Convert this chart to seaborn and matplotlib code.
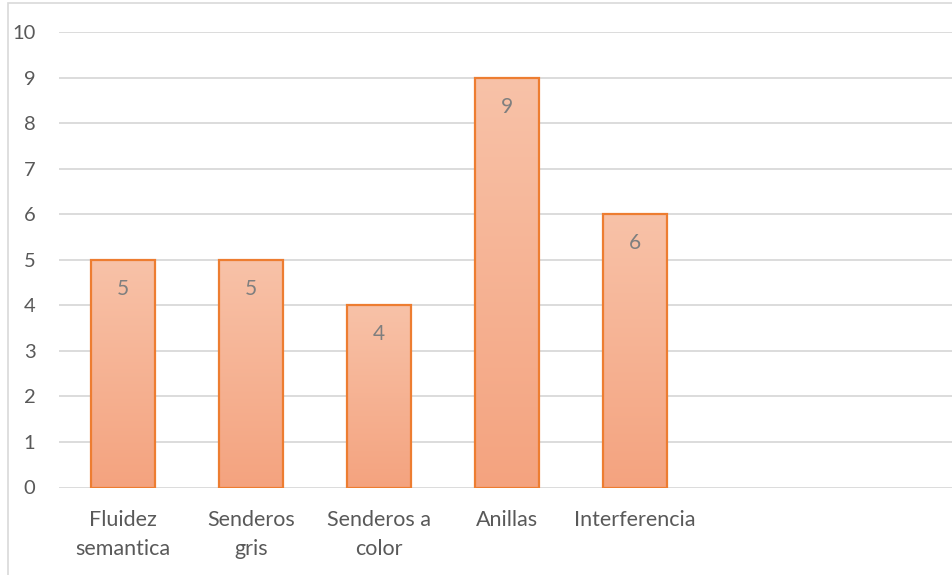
import numpy as np
import pandas as pd
import matplotlib.pyplot as plt
import matplotlib.colors as mcolors
from matplotlib.patches import Rectangle
import seaborn as sns

# data
categories = ["Fluidez\nsemantica", "Senderos\ngris", "Senderos a\ncolor", "Anillas", "Interferencia"]
values = [5, 5, 4, 9, 6]
n_slots = 7  # the category axis has two empty slots on the right
y_ticks = list(range(0, 11))

df = pd.DataFrame({"prueba": categories, "valor": values})

sns.set_theme(style="white")
plt.rcParams["font.family"] = ["Lato", "DejaVu Sans"]

fig = plt.figure(figsize=(9.53, 5.75), dpi=100)
ax = fig.add_axes([59 / 953, 1 - 487.5 / 575, 896 / 953, (487.5 - 32) / 575])

sns.barplot(data=df, x="prueba", y="valor", order=categories, width=0.5,
            color="#F5AE8D", edgecolor="#ED7D31", linewidth=1.6, saturation=1, ax=ax)

ax.set_xlim(-0.5, n_slots - 0.5)
ax.set_ylim(0, 10)
ax.set_yticks(y_ticks)
ax.set_xlabel("")
ax.set_ylabel("")

# gradient fill inside each bar
grad = mcolors.LinearSegmentedColormap.from_list("peach", ["#F4A37F", "#F8C2A8"])
for bar in ax.patches:
    x0, y0 = bar.get_x(), bar.get_y()
    w, h = bar.get_width(), bar.get_height()
    img = ax.imshow(np.linspace(0, 1, 256).reshape(-1, 1), cmap=grad, origin="lower",
                    extent=[x0, x0 + w, y0, y0 + h], aspect="auto", zorder=bar.get_zorder() - 0.01,
                    interpolation="bicubic")
    img.set_clip_path(bar)
    bar.set_facecolor("none")
ax.set_xlim(-0.5, n_slots - 0.5)
ax.set_ylim(0, 10)
ax.set_aspect("auto")

# value labels
for i, v in enumerate(values):
    ax.annotate(str(v), (i, v), xytext=(0, -21), textcoords="offset points",
                ha="center", va="center", fontsize=15, color="#7F7F7F")

ax.grid(axis="y", color="#D9D9D9", linewidth=1.3)
ax.set_axisbelow(True)
for s in ax.spines.values():
    s.set_visible(False)
ax.tick_params(axis="y", length=0, pad=17, labelsize=14.5, labelcolor="#595959")
ax.tick_params(axis="x", length=0, pad=16, labelsize=15.5, labelcolor="#595959")
for lbl in ax.get_xticklabels():
    lbl.set_linespacing(1.55)
    lbl.set_va("top")

# chart area frame (only left and top visible in the crop)
fig.add_artist(Rectangle((8.5 / 953, -0.1), 1.2, (572 / 575) + 0.1, transform=fig.transFigure,
                         fill=False, edgecolor="#D9D9D9", linewidth=1.2))

fig.savefig("out.png", dpi=100)
